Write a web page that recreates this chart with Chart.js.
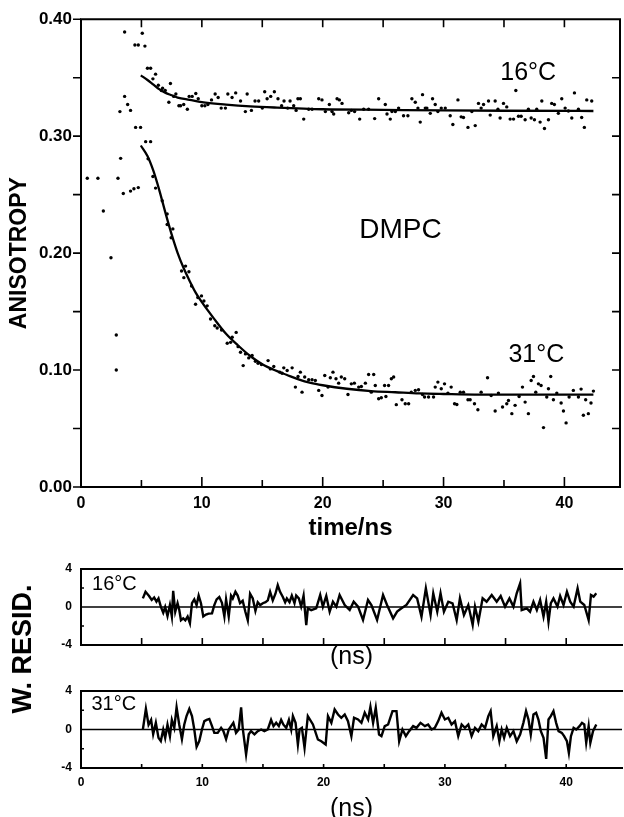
<!DOCTYPE html>
<html>
<head>
<meta charset="utf-8">
<title>DMPC anisotropy decay</title>
<script src="https://cdn.jsdelivr.net/npm/chart.js"></script>
<style>
  html, body { margin: 0; padding: 0; background: #fff; overflow: hidden; }
  #page { position: relative; width: 624px; height: 817px; overflow: hidden; }
  canvas { position: absolute; left: 0; }
  #main { top: 0; }
  #res16 { top: 540px; }
  #res31 { top: 560px; }
</style>
</head>
<body>
<div id="page">
  <canvas id="main" width="624" height="545"></canvas>
  <canvas id="res16" width="624" height="140"></canvas>
  <canvas id="res31" width="624" height="265"></canvas>
</div>
<script>
'use strict';

// early points (rise of the signal, before the fits start)
const riseT = [0.52, 1.40, 1.85, 2.48, 2.92, 2.92, 3.06, 3.22, 3.28, 3.50, 3.61, 3.61, 3.86, 4.10, 4.10, 4.38, 4.46, 4.52, 4.74, 4.74, 4.93, 5.07, 5.29];
const riseV = [0.264, 0.264, 0.236, 0.196, 0.130, 0.100, 0.264, 0.321, 0.281, 0.251, 0.334, 0.389, 0.327, 0.322, 0.253, 0.255, 0.378, 0.3075, 0.378, 0.256, 0.3075, 0.388, 0.377];

// 16°C anisotropy data
const t16 = [5.50, 5.76, 5.95, 6.17, 6.40, 6.65, 6.75, 6.97, 7.27, 7.40, 7.67, 7.85, 8.10, 8.24, 8.50, 8.80, 8.95, 9.20, 9.50, 9.70,
  10.00, 10.25, 10.50, 10.80, 11.10, 11.35, 11.60, 11.95, 12.15, 12.50, 12.80, 13.20, 13.60, 13.75, 14.10, 14.40, 14.70, 15.00, 15.20, 15.40,
  15.70, 16.00, 16.30, 16.60, 16.80, 17.10, 17.30, 17.60, 17.80, 17.95, 18.15, 18.43, 18.84, 19.12, 19.67, 19.94, 20.22, 20.55, 20.77, 20.91,
  21.19, 21.38, 21.60, 22.15, 22.37, 22.64, 23.06, 23.39, 23.80, 24.30, 24.63, 25.18, 25.32, 25.59, 25.73, 26.01, 26.28, 26.69, 27.05, 27.38,
  27.66, 27.88, 28.07, 28.26, 28.49, 28.62, 28.90, 29.09, 29.31, 29.53, 29.81, 30.14, 30.55, 30.77, 31.19, 31.46, 31.65, 32.02, 32.34, 32.62,
  32.89, 33.11, 33.31, 33.72, 33.86, 34.27, 34.50, 34.68, 34.96, 35.23, 35.51, 35.79, 35.98, 36.20, 36.42, 36.75, 37.02, 37.25, 37.52, 37.71,
  37.99, 38.13, 38.35, 38.68, 38.95, 39.17, 39.50, 39.78, 40.06, 40.33, 40.61, 40.83, 41.16, 41.43, 41.65, 41.85, 42.26];
const a16 = [0.358, 0.358, 0.349, 0.353, 0.3435, 0.339, 0.341, 0.339, 0.329, 0.345, 0.334, 0.336, 0.326, 0.326, 0.327, 0.323, 0.334, 0.334, 0.3365, 0.332,
  0.326, 0.326, 0.327, 0.331, 0.336, 0.333, 0.324, 0.324, 0.336, 0.333, 0.337, 0.330, 0.321, 0.336, 0.322, 0.330, 0.330, 0.324, 0.338, 0.332,
  0.334, 0.338, 0.332, 0.326, 0.330, 0.324, 0.330, 0.326, 0.322, 0.332, 0.332, 0.3146, 0.323, 0.323, 0.332, 0.331, 0.321, 0.327, 0.321, 0.319,
  0.332, 0.331, 0.328, 0.320, 0.322, 0.321, 0.3146, 0.323, 0.323, 0.315, 0.332, 0.327, 0.319, 0.3146, 0.321, 0.321, 0.324, 0.3175, 0.3175, 0.332,
  0.329, 0.324, 0.312, 0.3355, 0.324, 0.324, 0.3195, 0.332, 0.327, 0.321, 0.324, 0.324, 0.3175, 0.310, 0.331, 0.3165, 0.316, 0.3075, 0.321, 0.309,
  0.328, 0.324, 0.327, 0.330, 0.318, 0.330, 0.323, 0.3155, 0.328, 0.325, 0.3146, 0.3146, 0.339, 0.317, 0.317, 0.314, 0.323, 0.3155, 0.314, 0.323,
  0.312, 0.330, 0.3065, 0.314, 0.328, 0.327, 0.3195, 0.332, 0.324, 0.3215, 0.3155, 0.337, 0.323, 0.316, 0.3075, 0.331, 0.330];

// 31°C anisotropy data
const t31 = [5.35, 5.55, 5.76, 5.95, 6.17, 6.72, 7.13, 7.13, 7.46, 7.60, 8.32, 8.51, 8.65, 8.93, 9.15, 9.48, 9.67, 9.97, 10.17, 10.44,
  10.72, 11.07, 11.27, 11.63, 12.10, 12.38, 12.51, 12.84, 13.00, 13.20, 13.42, 13.61, 13.88, 14.16, 14.43, 14.65, 14.93, 15.48, 15.67, 15.95,
  16.45, 16.64, 16.78, 17.06, 17.47, 17.74, 17.96, 18.15, 18.29, 18.51, 18.84, 19.12, 19.39, 19.67, 19.94, 20.17, 20.44, 20.63, 20.85, 21.10,
  21.32, 21.54, 21.82, 22.09, 22.37, 22.62, 22.98, 23.20, 23.53, 23.80, 24.02, 24.22, 24.35, 24.63, 24.85, 25.12, 25.23, 25.45, 25.68, 25.87,
  26.09, 26.56, 26.83, 27.11, 27.33, 27.66, 27.93, 28.26, 28.43, 28.76, 29.17, 29.31, 29.53, 29.81, 30.08, 30.36, 30.63, 30.91, 31.10, 31.38,
  31.65, 32.02, 32.20, 32.56, 32.84, 33.11, 33.64, 33.94, 34.27, 34.54, 34.88, 35.23, 35.37, 35.65, 35.92, 36.25, 36.53, 36.75, 37.02, 37.25,
  37.44, 37.63, 37.85, 38.07, 38.27, 38.54, 38.68, 38.87, 39.09, 39.37, 39.73, 39.92, 40.14, 40.39, 40.74, 41.16, 41.38, 41.57, 41.76, 41.98,
  42.20, 42.40];
const a31 = [0.2953, 0.2806, 0.2953, 0.2655, 0.2556, 0.2448, 0.2335, 0.2244, 0.2131, 0.2207, 0.1847, 0.1790, 0.1889, 0.1841, 0.1719, 0.1563, 0.1620, 0.1634, 0.1591, 0.1549,
  0.1436, 0.1379, 0.1359, 0.1342, 0.1229, 0.1237, 0.1280, 0.1322, 0.1200, 0.1152, 0.1038, 0.1138, 0.1104, 0.1124, 0.1075, 0.1058, 0.1047, 0.1081, 0.1010, 0.1030,
  0.0982, 0.0973, 0.1019, 0.0996, 0.1019, 0.0854, 0.0945, 0.0982, 0.0811, 0.0940, 0.0917, 0.0917, 0.0911, 0.0826, 0.0783, 0.0953, 0.0854, 0.0934, 0.0982, 0.0926,
  0.0888, 0.0940, 0.0926, 0.0791, 0.0882, 0.0888, 0.0854, 0.0859, 0.0888, 0.0962, 0.0811, 0.0962, 0.0868, 0.0754, 0.0763, 0.0868, 0.0774, 0.0868, 0.0926, 0.0940,
  0.0704, 0.0746, 0.0712, 0.0712, 0.0811, 0.0826, 0.0831, 0.0791, 0.0769, 0.0769, 0.0769, 0.0854, 0.0897, 0.0840, 0.0882, 0.0803, 0.0854, 0.0712, 0.0706, 0.0811,
  0.0811, 0.0746, 0.0746, 0.0712, 0.0661, 0.0811, 0.0934, 0.0783, 0.0650, 0.0803, 0.0684, 0.0712, 0.0740, 0.0627, 0.0698, 0.0774, 0.0854, 0.0726, 0.0627, 0.0911,
  0.0945, 0.0811, 0.0882, 0.0868, 0.0508, 0.0769, 0.0840, 0.0945, 0.0746, 0.0803, 0.0718, 0.0650, 0.0548, 0.0769, 0.0826, 0.0769, 0.0837, 0.0613, 0.0746, 0.0627,
  0.0718, 0.0820];

// fitted curves
const fitT16 = [4.95, 5.5, 6.0, 6.5, 7.0, 7.5, 8.0, 9.0, 10, 12, 14, 16, 20, 25, 30, 35, 42.4];
const fit16 = [0.352, 0.348, 0.344, 0.340, 0.337, 0.335, 0.333, 0.331, 0.329, 0.327, 0.3255, 0.3245, 0.323, 0.3225, 0.322, 0.3217, 0.3215];
const fitT31 = [4.95, 5.5, 6.0, 6.5, 7.0, 7.5, 8.0, 8.5, 9.0, 9.5, 10, 11, 12, 13, 14, 15, 16, 17, 18, 19, 20, 22, 24, 26, 28, 30, 33, 36, 39, 42.4];
const fit31 = [0.292, 0.283, 0.270, 0.253, 0.234, 0.216, 0.200, 0.187, 0.176, 0.166, 0.158, 0.144, 0.131, 0.121, 0.112, 0.105, 0.100, 0.096, 0.092, 0.089,
  0.087, 0.084, 0.082, 0.081, 0.080, 0.0795, 0.079, 0.079, 0.079, 0.079];

// weighted residuals, 16°C
const rt16 = [5.10, 5.32, 5.61, 5.83, 6.03, 6.22, 6.39, 6.58, 6.78, 6.94, 7.13, 7.33, 7.49, 7.60, 7.77, 7.96, 8.10, 8.24, 8.43, 8.60,
  8.79, 8.98, 9.15, 9.34, 9.53, 9.70, 9.89, 10.08, 10.30, 10.52, 10.80, 10.99, 11.18, 11.40, 11.62, 11.82, 11.96, 12.18, 12.37, 12.51,
  12.73, 12.92, 13.11, 13.33, 13.55, 13.75, 13.94, 14.16, 14.38, 14.57, 14.77, 14.99, 15.21, 15.40, 15.59, 15.81, 16.03, 16.22, 16.41, 16.64,
  16.83, 16.97, 17.19, 17.38, 17.60, 17.74, 17.96, 18.15, 18.35, 18.57, 18.70, 18.98, 19.39, 19.72, 19.94, 20.22, 20.50, 20.77, 21.05, 21.32,
  21.74, 22.15, 22.48, 22.84, 23.25, 23.66, 23.94, 24.41, 24.90, 25.23, 25.73, 26.06, 26.42, 26.83, 27.38, 27.71, 28.07, 28.43, 28.82, 29.04,
  29.37, 29.64, 29.92, 30.28, 30.63, 30.97, 31.24, 31.57, 31.93, 32.29, 32.48, 32.76, 33.11, 33.44, 33.86, 34.27, 34.60, 34.96, 35.32, 35.65,
  35.92, 36.20, 36.33, 36.75, 37.02, 37.30, 37.58, 37.85, 38.13, 38.35, 38.54, 38.73, 38.95, 39.28, 39.50, 39.78, 40.06, 40.33, 40.61, 40.94,
  41.16, 41.49, 41.85, 42.04, 42.26, 42.48];
const rv16 = [0.91, 1.60, 1.16, 0.74, 1.00, 0.56, 0.90, 0.04, -0.60, 0.00, -0.95, 0.20, -1.00, 1.70, -0.50, 0.40, -0.30, -1.40, -1.20, -1.40,
  -1.00, -1.70, 0.40, 0.80, 0.20, 1.20, 0.40, -1.00, -0.80, -0.70, -0.67, 0.20, 0.80, 1.05, 0.44, -1.00, 0.80, -1.00, 1.20, 0.90,
  1.60, 1.20, 0.40, 0.65, -0.50, -1.40, 1.40, 0.90, -0.40, 0.50, 0.20, 0.40, 0.50, 0.70, 1.60, 0.70, 1.40, 2.30, 1.60, 1.05,
  0.50, 0.90, 0.50, 1.20, 0.40, 1.20, 0.90, 0.04, 1.20, -1.90, -0.15, -0.33, -0.14, 1.26, 0.04, 1.16, -0.49, 0.56, 0.04, 1.26,
  0.21, -0.32, 0.56, 0.04, -1.37, 0.74, 0.21, -1.37, 1.26, 0.21, -1.19, -0.49, -0.14, 0.21, 1.26, 0.91, -1.02, 1.96, -0.84, 1.44,
  -0.49, 1.44, -0.49, 0.56, 0.39, -1.37, 0.91, -0.84, 0.21, -1.89, 0.04, -1.54, 0.91, 0.56, 1.26, 0.56, 1.16, 0.04, 0.91, 0.04,
  1.44, 2.49, -0.32, -0.14, -0.49, 0.56, -0.32, 0.74, -1.02, 0.56, -1.54, 0.39, 0.91, 0.04, 1.16, 0.21, 1.61, 0.56, 0.04, 1.96,
  0.56, 0.21, -1.37, 1.26, 1.09, 1.44];

// weighted residuals, 31°C
const rt31 = [5.10, 5.35, 5.57, 5.78, 5.95, 6.17, 6.39, 6.58, 6.78, 6.94, 7.13, 7.33, 7.49, 7.69, 7.88, 8.10, 8.32, 8.51, 8.70, 8.93,
  9.15, 9.34, 9.53, 9.75, 9.97, 10.17, 10.36, 10.58, 10.80, 10.99, 11.27, 11.55, 11.74, 11.96, 12.18, 12.37, 12.56, 12.78, 13.00, 13.20,
  13.33, 13.61, 13.83, 14.02, 14.30, 14.57, 14.85, 15.12, 15.40, 15.67, 15.87, 16.09, 16.31, 16.50, 16.69, 16.92, 17.14, 17.33, 17.47, 17.69,
  17.88, 18.02, 18.21, 18.43, 18.70, 19.12, 19.53, 19.81, 20.17, 20.36, 20.64, 20.91, 21.19, 21.46, 21.74, 22.01, 22.29, 22.51, 22.84, 23.12,
  23.39, 23.67, 23.86, 24.08, 24.30, 24.57, 24.77, 25.04, 25.32, 25.68, 26.01, 26.23, 26.50, 26.78, 27.05, 27.38, 27.66, 27.99, 28.35, 28.62,
  28.90, 29.17, 29.45, 29.72, 30.00, 30.28, 30.55, 30.83, 31.10, 31.38, 31.65, 31.93, 32.20, 32.48, 32.75, 33.03, 33.31, 33.58, 33.77, 33.99,
  34.27, 34.49, 34.68, 34.88, 35.10, 35.37, 35.65, 35.92, 36.20, 36.47, 36.69, 36.89, 37.08, 37.30, 37.52, 37.71, 37.91, 38.13, 38.35, 38.54,
  38.73, 38.95, 39.17, 39.37, 39.64, 39.83, 40.06, 40.22, 40.39, 40.61, 40.83, 41.10, 41.30, 41.49, 41.65, 41.85, 41.99, 42.21, 42.48];
const rv31 = [0.00, 2.15, 0.50, 1.00, -0.50, 0.70, -0.87, -1.20, 0.00, -0.87, 0.50, -0.70, 1.00, 0.17, 2.30, 0.50, -1.00, 0.50, 1.40, 2.15,
  1.40, 0.00, -1.80, -1.20, 0.00, 0.87, 1.00, 1.10, 0.35, -0.35, -0.35, 0.17, -0.17, -1.00, 0.00, 0.35, 0.70, -0.35, 0.00, 2.30,
  0.17, -2.60, -0.50, -0.17, -0.50, -0.17, 0.00, -0.17, 0.00, 1.00, 0.35, 0.70, 0.35, 1.00, 0.50, 0.17, 1.00, 0.00, 1.40, 0.70,
  -1.56, 0.00, 0.17, -1.91, 1.39, 0.52, -1.04, -1.22, -1.56, 1.39, 0.69, 2.08, 1.56, 1.22, 1.56, 0.87, -0.69, 1.22, 1.04, 0.69,
  1.74, 1.04, 2.36, 0.69, 2.26, -0.52, -0.69, 0.35, 0.52, 1.91, 1.91, -1.22, 0.00, -0.69, -0.17, 0.35, 0.17, 0.69, 0.35, 0.52,
  0.00, 0.17, 0.87, 1.74, 1.04, 1.22, 0.52, 0.87, -0.69, 0.52, 0.17, 0.52, -0.69, 0.17, -0.17, 0.52, 0.17, 1.39, 1.91, -0.69,
  0.35, -1.22, 0.00, -0.87, 0.17, -0.69, -0.17, -1.22, -0.52, 0.69, 1.91, 1.04, -0.52, 1.56, 1.74, 1.04, -0.17, -0.87, -3.05, 1.04,
  1.39, 1.91, 0.69, -0.17, -0.35, -0.69, -1.22, -2.43, -0.69, 0.17, 0.00, 0.35, 0.69, 0.52, -1.39, 0.35, -1.39, -0.17, 0.52];

// axis ticks
const timeLabels = [0, 10, 20, 30, 40];
const timeMajor = [10, 20, 30, 40];
const timeMinor = [5, 15, 25, 35];
const timeAll = [5, 10, 15, 20, 25, 30, 35, 40];
const aniTicks = [0, 0.05, 0.10, 0.15, 0.20, 0.25, 0.30, 0.35, 0.40];
const aniInner = [0.05, 0.10, 0.15, 0.20, 0.25, 0.30, 0.35];
const residMinor = [-2, 2];

const TMAX = 44.6;
const FONT = "'Liberation Sans', Arial, Helvetica, sans-serif";
Chart.defaults.font.family = FONT;
Chart.defaults.color = '#000';

function pts(xs, ys) {
  return xs.map((x, i) => ({ x: x, y: ys[i] }));
}

// frame lines and inward/outward tick marks, placed with the chart scales
function framePlugin(cfg) {
  return {
    id: 'frame',
    afterDatasetsDraw(chart) {
      const ctx = chart.ctx;
      const a = chart.chartArea;
      const sx = chart.scales.x, sy = chart.scales.y;
      ctx.save();
      ctx.strokeStyle = '#000';
      if (cfg.zero) {
        const y0 = sy.getPixelForValue(0);
        ctx.lineWidth = 1.5;
        ctx.beginPath();
        ctx.moveTo(a.left, y0);
        ctx.lineTo(a.right, y0);
        ctx.stroke();
      }
      ctx.lineWidth = 2;
      ctx.lineCap = 'square';
      ctx.beginPath();
      cfg.sides.forEach(s => {
        if (s === 'top') { ctx.moveTo(a.left, a.top); ctx.lineTo(a.right, a.top); }
        if (s === 'bottom') { ctx.moveTo(a.left, a.bottom); ctx.lineTo(a.right, a.bottom); }
        if (s === 'left') { ctx.moveTo(a.left, a.top); ctx.lineTo(a.left, a.bottom); }
        if (s === 'right') { ctx.moveTo(a.right, a.top); ctx.lineTo(a.right, a.bottom); }
      });
      ctx.stroke();
      ctx.lineWidth = 1.6;
      ctx.lineCap = 'butt';
      ctx.beginPath();
      cfg.ticks.forEach(tk => {
        tk.values.forEach(v => {
          if (tk.edge === 'top' || tk.edge === 'bottom') {
            const px = sx.getPixelForValue(v);
            const y0 = tk.edge === 'top' ? a.top : a.bottom;
            const dir = tk.edge === 'top' ? 1 : -1;
            ctx.moveTo(px, y0);
            ctx.lineTo(px, y0 + dir * tk.len);
          } else {
            const py = sy.getPixelForValue(v);
            const x0 = tk.edge === 'left' ? a.left : a.right;
            const dir = tk.edge === 'left' ? 1 : -1;
            ctx.moveTo(x0, py);
            ctx.lineTo(x0 + dir * tk.len, py);
          }
        });
      });
      ctx.stroke();
      ctx.restore();
    }
  };
}

// text annotations (data coordinates unless px is set)
function notesPlugin(items) {
  return {
    id: 'notes',
    afterDraw(chart) {
      const ctx = chart.ctx;
      items.forEach(n => {
        let x = n.x, y = n.y;
        if (!n.px) {
          x = chart.scales.x.getPixelForValue(n.x);
          y = chart.scales.y.getPixelForValue(n.y);
        }
        ctx.save();
        ctx.font = n.font;
        ctx.fillStyle = '#000';
        ctx.textAlign = 'center';
        ctx.textBaseline = 'middle';
        ctx.translate(x, y);
        if (n.rotate) ctx.rotate(n.rotate);
        ctx.fillText(n.text, 0, 0);
        ctx.restore();
      });
    }
  };
}

function dots(data) {
  return { data: data, showLine: false, pointRadius: 1.7, pointBackgroundColor: '#000', pointBorderWidth: 0 };
}
function curve(data, width, smooth) {
  return {
    data: data, showLine: true, pointRadius: 0, borderColor: '#000', borderWidth: width,
    cubicInterpolationMode: smooth ? 'monotone' : 'default', tension: 0
  };
}

function timeAxis(height, showLabels, title, titlePad, labelSize) {
  return {
    type: 'linear', min: 0, max: TMAX,
    grid: { display: false, drawTicks: false },
    border: { display: false },
    ticks: {
      display: showLabels, stepSize: 10, includeBounds: false, padding: 7,
      font: { size: labelSize, weight: 'bold' },
      callback: v => (timeLabels.includes(v) ? String(v) : '')
    },
    title: { display: true, text: title.text, font: title.font, padding: { top: 0, bottom: titlePad } },
    afterFit: s => { s.height = height; }
  };
}

const baseOpts = {
  responsive: false,
  animation: false,
  events: [],
  plugins: { legend: { display: false }, tooltip: { enabled: false } }
};

// main anisotropy panel
new Chart(document.getElementById('main'), {
  type: 'scatter',
  data: {
    datasets: [
      dots(pts(riseT, riseV)),
      dots(pts(t16, a16)),
      dots(pts(t31, a31)),
      curve(pts(fitT16, fit16), 2.3, true),
      curve(pts(fitT31, fit31), 2.3, true)
    ]
  },
  options: Object.assign({}, baseOpts, {
    layout: { padding: { top: 17, right: 2, left: 0, bottom: 0 } },
    scales: {
      x: timeAxis(58, true, { text: 'time/ns', font: { size: 24, weight: 'bold' } }, 2, 16),
      y: {
        type: 'linear', min: 0, max: 0.4,
        grid: { display: false, drawTicks: false },
        border: { display: false },
        ticks: { stepSize: 0.1, padding: 9, font: { size: 17, weight: 'bold' }, callback: v => v.toFixed(2) },
        title: { display: true, text: 'ANISOTROPY', font: { size: 23, weight: 'bold' }, padding: { top: 6, bottom: 0 } },
        afterFit: s => { s.width = 81; }
      }
    }
  }),
  plugins: [
    framePlugin({
      sides: ['top', 'bottom', 'left', 'right'],
      ticks: [
        { edge: 'left', values: aniTicks, len: -8 },
        { edge: 'right', values: aniInner, len: 8 },
        { edge: 'top', values: timeAll, len: 8 },
        { edge: 'bottom', values: timeMajor, len: 10 },
        { edge: 'bottom', values: timeMinor, len: 7 }
      ]
    }),
    notesPlugin([
      { text: '16°C', x: 37.0, y: 0.354, font: '25px ' + FONT },
      { text: 'DMPC', x: 26.44, y: 0.2196, font: '28px ' + FONT },
      { text: '31°C', x: 37.68, y: 0.1132, font: '25px ' + FONT }
    ])
  ]
});

function residAxis() {
  return {
    type: 'linear', min: -4, max: 4,
    grid: { display: false, drawTicks: false },
    border: { display: false },
    ticks: { stepSize: 4, padding: 9, font: { size: 12, weight: 'bold' }, callback: v => String(v) },
    afterFit: s => { s.width = 81; }
  };
}

// residuals, 16°C
new Chart(document.getElementById('res16'), {
  type: 'scatter',
  data: { datasets: [curve(pts(rt16, rv16), 2.4, false)] },
  options: Object.assign({}, baseOpts, {
    layout: { padding: { top: 29, right: 2, left: 0, bottom: 0 } },
    scales: {
      x: timeAxis(35, false, { text: '(ns)', font: { size: 25 } }, 8, 12),
      y: residAxis()
    }
  }),
  plugins: [
    framePlugin({
      zero: true,
      sides: ['top', 'bottom', 'left'],
      ticks: [
        { edge: 'bottom', values: timeAll, len: 7 },
        { edge: 'left', values: residMinor, len: 3 }
      ]
    }),
    notesPlugin([{ text: '16°C', x: 2.75, y: 2.37, font: '20px ' + FONT }])
  ]
});

// residuals, 31°C (also carries the shared W. RESID. label)
new Chart(document.getElementById('res31'), {
  type: 'scatter',
  data: { datasets: [curve(pts(rt31, rv31), 2.4, false)] },
  options: Object.assign({}, baseOpts, {
    layout: { padding: { top: 131, right: 2, left: 0, bottom: 0 } },
    scales: {
      x: timeAxis(57, true, { text: '(ns)', font: { size: 25 } }, 1, 12),
      y: residAxis()
    }
  }),
  plugins: [
    framePlugin({
      zero: true,
      sides: ['top', 'bottom', 'left'],
      ticks: [
        { edge: 'bottom', values: timeAll, len: 4 },
        { edge: 'left', values: residMinor, len: 3 }
      ]
    }),
    notesPlugin([
      { text: '31°C', x: 2.7, y: 2.55, font: '20px ' + FONT },
      { text: 'W. RESID.', x: 24, y: 89, px: true, rotate: -Math.PI / 2, font: 'bold 27px ' + FONT }
    ])
  ]
});
</script>
</body>
</html>
